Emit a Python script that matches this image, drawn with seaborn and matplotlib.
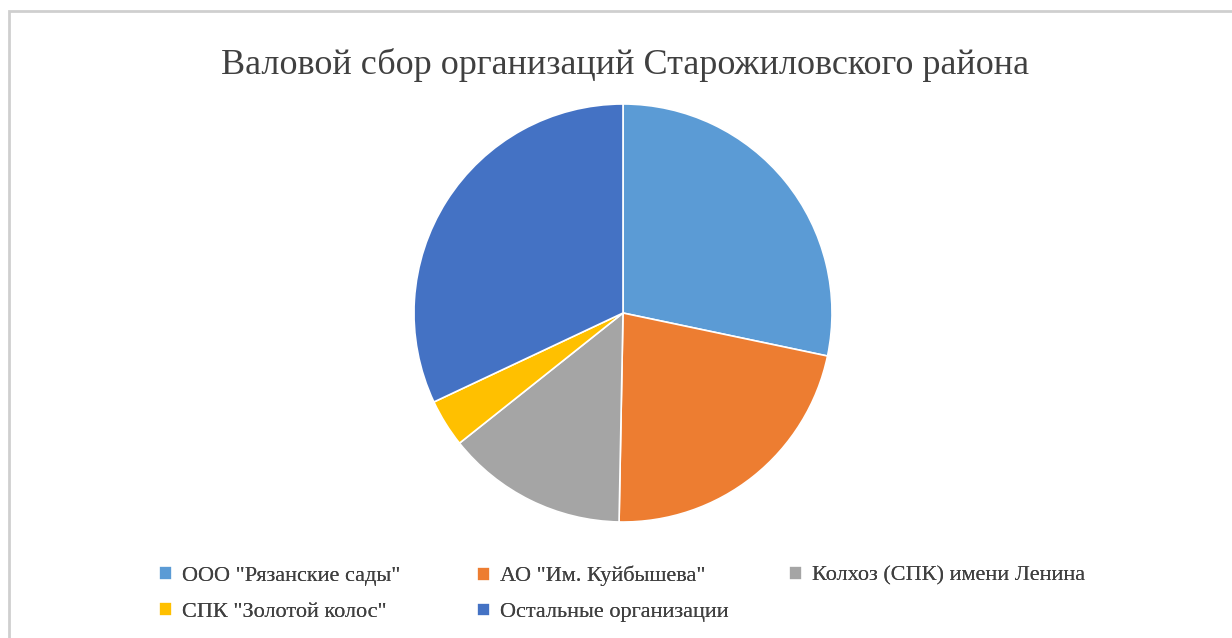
import matplotlib
matplotlib.use("Agg")
import matplotlib.pyplot as plt
from matplotlib.patches import Rectangle
import seaborn as sns

labels = ['ООО "Рязанские сады"', 'АО "Им. Куйбышева"', 'Колхоз (СПК) имени Ленина',
          'СПК "Золотой колос"', 'Остальные организации']
shares = [28.3, 22.0, 14.0, 3.7, 32.0]
colors = ['#5B9BD5', '#ED7D31', '#A5A5A5', '#FFC000', '#4472C4']
title = 'Валовой сбор организаций Старожиловского района'

sns.set_theme(style="white")
plt.rcParams['font.family'] = ['Liberation Serif', 'DejaVu Serif']

W, H = 1232, 638
fig = plt.figure(figsize=(W / 100, H / 100), dpi=100)
fig.patch.set_facecolor('white')

# chart frame (cut off on the right/bottom like the screenshot)
fig.patches.append(Rectangle((9 / W, -0.05), 1.1, 1 - 11 / H + 0.05, transform=fig.transFigure,
                             fill=False, edgecolor='#cfcfcf', linewidth=2.0))

# pie axes: centre (623, 313), radius 209 px
cx, cy, r = 623, 313, 209
ax = fig.add_axes([(cx - r) / W, 1 - (cy + r) / H, 2 * r / W, 2 * r / H])
wedges, _ = ax.pie(shares, colors=sns.color_palette(colors), startangle=90, counterclock=False,
                   radius=1.0, wedgeprops=dict(edgecolor='white', linewidth=1.2))
ax.set_xlim(-1, 1)
ax.set_ylim(-1, 1)
ax.set_aspect('equal')
ax.axis('off')

fig.text(625 / W, 1 - 74 / H, title, ha='center', va='baseline', fontsize=26, color='#404040')

# legend laid out in rows of three, one legend per column
columns = [[0, 3], [1, 4], [2]]
col_x = [159, 477, 789]
for idx, x0 in zip(columns, col_x):
    leg = fig.legend([wedges[i] for i in idx], [labels[i] for i in idx],
                     loc='upper left', bbox_to_anchor=(x0 / W, 1 - 566 / H), frameon=False,
                     borderpad=0, borderaxespad=0, fontsize=16, handlelength=0.58,
                     handleheight=0.58, handletextpad=0.45, labelspacing=0.72,
                     labelcolor='#404040')
    fig.add_artist(leg)

fig.savefig('out.png', dpi=100, facecolor='white')
